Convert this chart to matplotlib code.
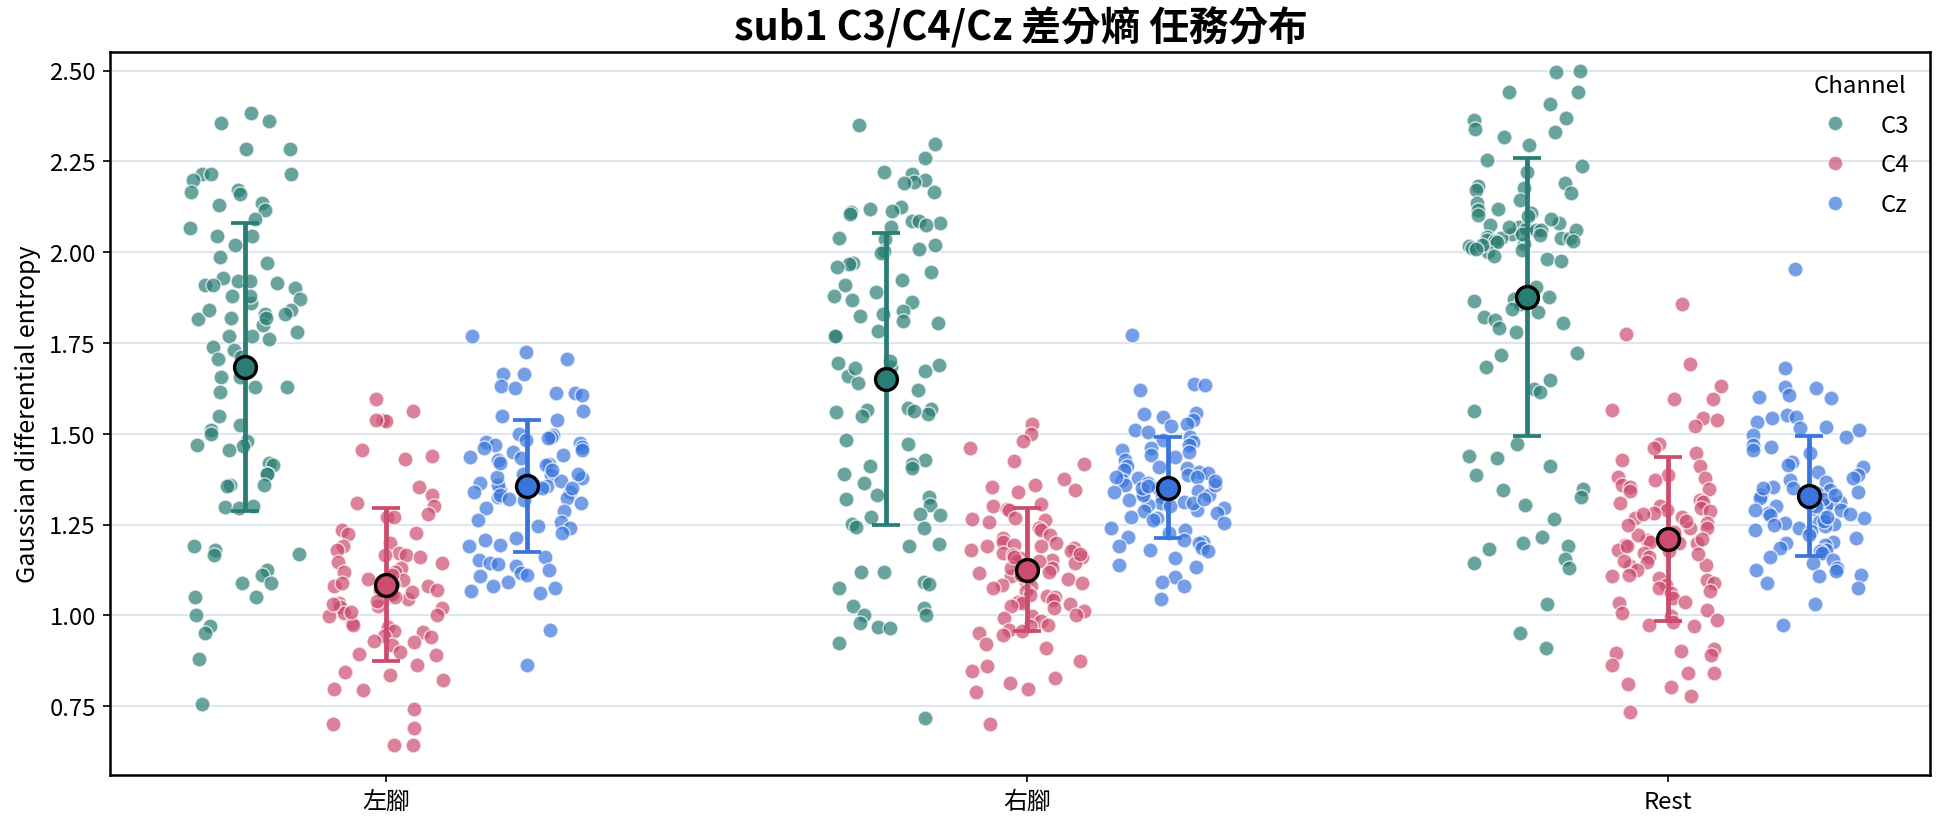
import numpy as np
import pandas as pd
import seaborn as sns
import matplotlib.pyplot as plt
from matplotlib.lines import Line2D

# task categories and channels
tasks = ["左腳", "右腳", "Rest"]
channels = ["C3", "C4", "Cz"]
colors = {"C3": "#2a7d74", "C4": "#cc4c6e", "Cz": "#3a75dd"}

# per-trial differential entropy
left_c3 = [2.383, 2.36, 2.355, 2.285, 2.285, 2.214, 2.214, 2.214, 2.20, 2.17, 2.165, 2.16, 2.135, 2.13,
           2.116, 2.09, 2.066, 2.045, 2.045, 2.02, 1.988, 1.97, 1.92, 1.91, 1.92, 1.915, 1.93, 1.91, 1.88,
           1.90, 1.87, 1.83, 1.84, 1.83, 1.82, 1.815, 1.80, 1.77, 1.77, 1.74, 1.73, 1.71, 1.705, 1.655,
           1.655, 1.63, 1.63, 1.615, 1.55, 1.525, 1.51, 1.50, 1.48, 1.47, 1.465, 1.455, 1.42, 1.415, 1.39,
           1.39, 1.36, 1.36, 1.355, 1.30, 1.297, 1.295, 1.19, 1.18, 1.17, 1.165, 1.125, 1.11, 1.09, 1.09,
           1.05, 1.05, 1.0, 0.97, 0.95, 0.88, 0.755,
           1.86, 1.84, 1.78, 1.82, 1.88, 1.76]
left_c4 = [1.597, 1.562, 1.538, 1.536, 1.538, 1.455, 1.438, 1.43, 1.353, 1.332, 1.31, 1.30, 1.28, 1.272,
           1.272, 1.235, 1.228, 1.224, 1.20, 1.19, 1.18, 1.173, 1.167, 1.165, 1.162, 1.144, 1.146, 1.13,
           1.118, 1.098, 1.09, 1.085, 1.08, 1.07, 1.057, 1.045, 1.034, 1.025, 1.023, 1.006, 0.997, 0.98,
           0.973, 0.968, 0.956, 0.953, 0.944, 0.941, 0.93, 0.927, 0.917, 0.90, 0.894, 0.89, 0.864, 0.844,
           0.837, 0.823, 0.796, 0.794, 0.743, 0.702, 0.69, 0.642, 0.644,
           1.06, 1.07, 1.10, 1.05, 1.08, 1.11, 1.04, 1.02, 1.00, 1.12, 1.03, 1.09, 1.01, 1.065]
left_cz = [1.768, 1.724, 1.707, 1.664, 1.664, 1.631, 1.625, 1.611, 1.608, 1.612, 1.562, 1.537, 1.548,
           1.50, 1.496, 1.49, 1.487, 1.483, 1.478, 1.474, 1.469, 1.464, 1.46, 1.455, 1.45, 1.441, 1.437,
           1.432, 1.427, 1.418, 1.414, 1.39, 1.386, 1.377, 1.365, 1.359, 1.355, 1.35, 1.345, 1.34, 1.327,
           1.324, 1.318, 1.295, 1.286, 1.263, 1.258, 1.245, 1.24, 1.226, 1.212, 1.208, 1.194, 1.19, 1.162,
           1.153, 1.144, 1.14, 1.135, 1.126, 1.117, 1.112, 1.107, 1.093, 1.08, 1.075, 1.066, 1.061, 0.96,
           0.862,
           1.34, 1.36, 1.38, 1.33, 1.42, 1.31, 1.37, 1.35, 1.40, 1.32, 1.39, 1.345]
right_c3 = [2.35, 2.298, 2.26, 2.215, 2.22, 2.20, 2.193, 2.19, 2.166, 2.123, 2.118, 2.112, 2.11, 2.105,
            2.087, 2.085, 2.08, 2.074, 2.068, 2.04, 2.036, 2.02, 2.01, 2.004, 1.998, 1.97, 1.966, 1.96,
            1.944, 1.922, 1.91, 1.89, 1.879, 1.868, 1.863, 1.838, 1.83, 1.825, 1.81, 1.805, 1.783, 1.77,
            1.77, 1.694, 1.689, 1.684, 1.673, 1.66, 1.64, 1.57, 1.568, 1.566, 1.56, 1.553, 1.548, 1.562,
            1.483, 1.472, 1.429, 1.418, 1.412, 1.407, 1.39, 1.363, 1.33, 1.325, 1.32, 1.303, 1.28, 1.277,
            1.27, 1.252, 1.244, 1.24, 1.197, 1.19, 1.12, 1.118, 1.092, 1.087, 1.076, 1.027, 1.02, 1.002,
            1.0, 0.978, 0.967, 0.965, 0.924, 0.718,
            1.70, 1.62, 1.68]
right_c4 = [1.526, 1.50, 1.48, 1.46, 1.425, 1.416, 1.375, 1.359, 1.354, 1.345, 1.34, 1.306, 1.30, 1.293,
            1.29, 1.267, 1.266, 1.263, 1.258, 1.24, 1.235, 1.222, 1.212, 1.203, 1.199, 1.194, 1.19, 1.185,
            1.18, 1.176, 1.171, 1.167, 1.162, 1.158, 1.153, 1.149, 1.144, 1.13, 1.125, 1.116, 1.107, 1.093,
            1.084, 1.08, 1.075, 1.066, 1.057, 1.052, 1.05, 1.043, 1.038, 1.034, 1.03, 1.025, 1.02, 1.011,
            1.002, 0.997, 0.993, 0.984, 0.974, 0.97, 0.961, 0.956, 0.951, 0.947, 0.92, 0.91, 0.874, 0.86,
            0.848, 0.828, 0.814, 0.796, 0.79, 0.70,
            1.12, 1.15, 1.10, 1.17, 1.13, 1.19, 1.11, 1.14, 1.16, 1.09]
right_cz = [1.771, 1.636, 1.62, 1.633, 1.558, 1.554, 1.547, 1.537, 1.528, 1.521, 1.51, 1.505, 1.492, 1.483,
            1.478, 1.469, 1.46, 1.455, 1.45, 1.441, 1.437, 1.428, 1.411, 1.409, 1.405, 1.40, 1.396, 1.391,
            1.386, 1.382, 1.377, 1.373, 1.364, 1.359, 1.35, 1.341, 1.336, 1.332, 1.327, 1.318, 1.313, 1.309,
            1.304, 1.30, 1.295, 1.29, 1.286, 1.281, 1.272, 1.267, 1.263, 1.254, 1.24, 1.235, 1.226, 1.217,
            1.208, 1.203, 1.199, 1.191, 1.185, 1.18, 1.176, 1.157, 1.139, 1.133, 1.105, 1.093, 1.082, 1.045,
            1.34, 1.36, 1.33, 1.35, 1.38, 1.31, 1.37, 1.345, 1.32, 1.355]
rest_c3 = [2.50, 2.496, 2.442, 2.44, 2.407, 2.37, 2.364, 2.34, 2.332, 2.316, 2.295, 2.254, 2.236, 2.222,
           2.19, 2.182, 2.177, 2.172, 2.164, 2.143, 2.136, 2.115, 2.107, 2.102, 2.075, 2.07, 2.065, 2.061,
           2.06, 2.049, 2.046, 2.043, 2.04, 2.038, 2.033, 2.03, 2.027, 2.022, 2.017, 2.011, 2.006, 2.0,
           1.982, 1.976, 1.904, 1.877, 1.872, 1.866, 1.856, 1.843, 1.835, 1.822, 1.813, 1.805, 1.792, 1.781,
           1.722, 1.717, 1.685, 1.648, 1.623, 1.616, 1.562, 1.471, 1.439, 1.434, 1.412, 1.386, 1.345, 1.348,
           1.327, 1.305, 1.266, 1.217, 1.198, 1.19, 1.183, 1.156, 1.145, 1.129, 1.03, 0.95, 0.91,
           2.05, 2.08, 2.02, 2.10, 2.04, 2.06, 1.99, 2.12, 2.03, 2.07, 2.01, 2.09]
rest_c4 = [1.856, 1.774, 1.693, 1.631, 1.597, 1.597, 1.565, 1.542, 1.537, 1.521, 1.473, 1.46, 1.446, 1.428,
           1.411, 1.386, 1.38, 1.377, 1.373, 1.359, 1.354, 1.347, 1.341, 1.318, 1.313, 1.309, 1.301, 1.295,
           1.29, 1.286, 1.281, 1.272, 1.267, 1.254, 1.24, 1.217, 1.208, 1.203, 1.199, 1.194, 1.176, 1.171,
           1.162, 1.148, 1.139, 1.135, 1.125, 1.112, 1.107, 1.103, 1.098, 1.089, 1.084, 1.075, 1.066, 1.061,
           1.048, 1.038, 1.034, 1.016, 1.007, 0.999, 0.988, 0.983, 0.974, 0.97, 0.906, 0.901, 0.897, 0.892,
           0.864, 0.842, 0.84, 0.81, 0.803, 0.777, 0.734,
           1.22, 1.18, 1.25, 1.15, 1.28, 1.20, 1.24, 1.17, 1.26, 1.21, 1.19, 1.23]
rest_cz = [1.954, 1.68, 1.629, 1.627, 1.606, 1.601, 1.599, 1.551, 1.547, 1.542, 1.533, 1.519, 1.515, 1.51,
           1.496, 1.492, 1.469, 1.464, 1.455, 1.446, 1.423, 1.414, 1.409, 1.396, 1.386, 1.377, 1.373, 1.368,
           1.354, 1.35, 1.345, 1.336, 1.331, 1.322, 1.313, 1.309, 1.304, 1.30, 1.29, 1.286, 1.281, 1.277,
           1.272, 1.267, 1.258, 1.254, 1.251, 1.249, 1.247, 1.24, 1.235, 1.231, 1.222, 1.212, 1.203, 1.199,
           1.194, 1.185, 1.18, 1.176, 1.171, 1.162, 1.153, 1.144, 1.13, 1.125, 1.121, 1.112, 1.107, 1.089,
           1.075, 1.031, 0.973,
           1.32, 1.28, 1.35, 1.30, 1.26, 1.34, 1.29, 1.31, 1.33, 1.27]

data = {
    ("左腳", "C3"): left_c3, ("左腳", "C4"): left_c4, ("左腳", "Cz"): left_cz,
    ("右腳", "C3"): right_c3, ("右腳", "C4"): right_c4, ("右腳", "Cz"): right_cz,
    ("Rest", "C3"): rest_c3, ("Rest", "C4"): rest_c4, ("Rest", "Cz"): rest_cz,
}

rows = []
for (task, ch), vals in data.items():
    for v in vals:
        rows.append({"task": task, "channel": ch, "de": v})
df = pd.DataFrame(rows)

plt.rcParams['font.family'] = ['Noto Sans CJK TC', 'DejaVu Sans']

fig, ax = plt.subplots(figsize=(12.96, 5.513), dpi=150)
fig.subplots_adjust(left=0.0568, right=0.993, top=0.9355, bottom=0.0615)

offsets = {"C3": -0.22, "C4": 0.0, "Cz": 0.22}
task_idx = {t: i for i, t in enumerate(tasks)}
np.random.seed(3)

for ch in channels:
    sub = df[df.channel == ch]
    xpos = sub.task.map(task_idx) + offsets[ch]
    sns.stripplot(x=xpos.values, y=sub.de.values, native_scale=True, jitter=0.09,
                  color=colors[ch], alpha=0.7, size=7.2, linewidth=0.7,
                  edgecolor="white", ax=ax, zorder=2)

# mean +- std
for ch in channels:
    for t in tasks:
        vals = np.array(data[(t, ch)])
        m, s = vals.mean(), vals.std()
        x = task_idx[t] + offsets[ch]
        ax.errorbar(x, m, yerr=s, fmt='none', ecolor=colors[ch], elinewidth=2.3,
                    capsize=6.5, capthick=1.8, zorder=3)
        ax.plot(x, m, 'o', ms=10.5, mfc=colors[ch], mec='black', mew=1.6, zorder=4)

ax.set_xlim(-0.43, 2.41)
ax.set_ylim(0.56, 2.55)
ax.set_xticks(range(len(tasks)))
ax.set_xticklabels(tasks)
yt = [0.75, 1.0, 1.25, 1.5, 1.75, 2.0, 2.25, 2.5]
ax.set_yticks(yt)
ax.set_yticklabels([f"{v:.2f}" for v in yt])
ax.tick_params(labelsize=11.5)
ax.grid(axis='y', color='#dbe4ee', linewidth=0.9, zorder=0)
ax.set_axisbelow(True)
for sp in ax.spines.values():
    sp.set_linewidth(1.2)
    sp.set_color('black')

ax.set_xlabel("")
ax.set_ylabel("Gaussian differential entropy", fontsize=12)
ax.set_title("sub1 C3/C4/Cz 差分熵 任務分布", fontsize=19, fontweight='bold', pad=6)

handles = [Line2D([], [], marker='o', ls='none', color=colors[ch], alpha=0.7, ms=7,
                  mec='white', mew=0.6) for ch in channels]
ax.legend(handles, channels, title="Channel", loc='upper right', frameon=False,
          fontsize=11.5, title_fontsize=11.5, handletextpad=0.9, labelspacing=0.7)

fig.savefig("out.png", dpi=150)
